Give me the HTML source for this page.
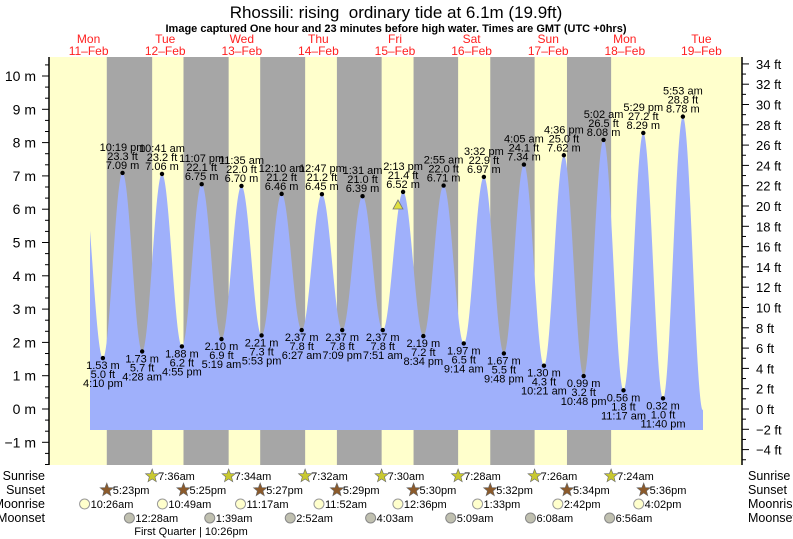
<!DOCTYPE html>
<html><head><meta charset="utf-8"><style>
html,body{margin:0;padding:0;background:#fff;}
svg{display:block;font-family:"Liberation Sans",sans-serif;}
</style></head><body>
<svg id="s" width="793" height="539" xmlns="http://www.w3.org/2000/svg"></svg>
<script>
const S=document.getElementById('s');
let o='';
const X=d=>51.3+d*76.6, Y=h=>409-h*33.3;
const T=(day,hh,mm,pm)=>{let h=hh%12+(pm?12:0);return day+(h+mm/60)/24;};
o+=`<rect x="49" y="57" width="693" height="408" fill="#ffffcc"/>`;
const sunset=[[0,5,23],[1,5,25],[2,5,27],[3,5,29],[4,5,30],[5,5,32],[6,5,34],[7,5,36]];
const sunrise=[[1,7,36],[2,7,34],[3,7,32],[4,7,30],[5,7,28],[6,7,26],[7,7,24]];
for(let i=0;i<7;i++){let a=X(T(sunset[i][0],sunset[i][1],sunset[i][2],1)),b=X(T(sunrise[i][0],sunrise[i][1],sunrise[i][2],0));
o+=`<rect x="${a}" y="57" width="${b-a}" height="408" fill="#a6a6a6"/>`;}
const E=[[T(0,9,40,0),7.1,0,1],[T(0,4,10,1),1.53,'4:10 pm'],[T(0,10,19,1),7.09,'10:19 pm'],[T(1,4,28,0),1.73,'4:28 am'],[T(1,10,41,0),7.06,'10:41 am'],[T(1,4,55,1),1.88,'4:55 pm'],[T(1,11,7,1),6.75,'11:07 pm'],[T(2,5,19,0),2.10,'5:19 am'],[T(2,11,35,0),6.70,'11:35 am'],[T(2,5,53,1),2.21,'5:53 pm'],[T(3,12,10,0),6.46,'12:10 am'],[T(3,6,27,0),2.37,'6:27 am'],[T(3,12,47,1),6.45,'12:47 pm'],[T(3,7,9,1),2.37,'7:09 pm'],[T(4,1,31,0),6.39,'1:31 am'],[T(4,7,51,0),2.37,'7:51 am'],[T(4,2,13,1),6.52,'2:13 pm'],[T(4,8,34,1),2.19,'8:34 pm'],[T(5,2,55,0),6.71,'2:55 am'],[T(5,9,14,0),1.97,'9:14 am'],[T(5,3,32,1),6.97,'3:32 pm'],[T(5,9,48,1),1.67,'9:48 pm'],[T(6,4,5,0),7.34,'4:05 am'],[T(6,10,21,0),1.30,'10:21 am'],[T(6,4,36,1),7.62,'4:36 pm'],[T(6,10,48,1),0.99,'10:48 pm'],[T(7,5,2,0),8.08,'5:02 am'],[T(7,11,17,0),0.56,'11:17 am'],[T(7,5,29,1),8.29,'5:29 pm'],[T(7,11,40,1),0.32,'11:40 pm'],[T(8,5,53,0),8.78,'5:53 am'],[T(8,12,10,1),-0.05,0,1]];
function tide(d){for(let i=0;i<E.length-1;i++){if(d>=E[i][0]&&d<=E[i+1][0]){let f=(d-E[i][0])/(E[i+1][0]-E[i][0]);return E[i][1]+(E[i+1][1]-E[i][1])*(1-Math.cos(Math.PI*f))/2;}}return 0;}
let x0=90,x1=703,p=`M${x0},430 `;
for(let x=x0;x<=x1;x+=0.5){p+=`L${x},${Y(tide((x-51.3)/76.6)).toFixed(2)} `;}
p+=`L${x1},430 Z`;
o+=`<path d="${p}" fill="#9fb0fb"/>`;
for(let i=1;i<E.length-1;i++){let [d,h,t]=E[i];let x=X(d),y=Y(h);let ft=(h/0.3048).toFixed(1);
o+=`<circle cx="${x}" cy="${y}" r="2.2" fill="#000"/>`;
if(i%2==0){o+=`<text x="${x}" y="${y-4}" font-size="11" text-anchor="middle">${h.toFixed(2)} m</text><text x="${x}" y="${y-13}" font-size="11" text-anchor="middle">${ft} ft</text><text x="${x}" y="${y-22}" font-size="11" text-anchor="middle">${t}</text>`;}
else{o+=`<text x="${x}" y="${y+11}" font-size="11" text-anchor="middle">${h.toFixed(2)} m</text><text x="${x}" y="${y+20}" font-size="11" text-anchor="middle">${ft} ft</text><text x="${x}" y="${y+29}" font-size="11" text-anchor="middle">${t}</text>`;}}
o+=`<polygon points="398,200 393,209 403,209" fill="#e0e040" stroke="#777" stroke-width="0.8"/>`;
o+=`<line x1="49" y1="57" x2="49" y2="465" stroke="#000" stroke-width="1.5"/><line x1="742" y1="57" x2="742" y2="465" stroke="#000" stroke-width="1.5"/>`;
for(let m=-1;m<=10;m++){let y=Y(m);o+=`<line x1="42" y1="${y}" x2="49" y2="${y}" stroke="#000"/><text x="36" y="${y+5}" font-size="14" text-anchor="end">${m<0?'\u2212'+(-m):m} m</text>`;}
for(let k=-5;k<=32;k++){let y=Y(k/3);if(y>57&&y<465&&k%3)o+=`<line x1="45" y1="${y}" x2="49" y2="${y}" stroke="#000"/>`;}
for(let f=-5;f<=34;f++){let y=Y(f*0.3048);if(y<57||y>465)continue;
if(f%2==0){o+=`<line x1="742" y1="${y}" x2="749" y2="${y}" stroke="#000"/><text x="756" y="${y+5}" font-size="13">${f<0?'\u2212'+(-f):f} ft</text>`;}else o+=`<line x1="742" y1="${y}" x2="746" y2="${y}" stroke="#000"/>`;}
o+=`<text x="396" y="18" font-size="17" text-anchor="middle" xml:space="preserve">Rhossili: rising  ordinary tide at 6.1m (19.9ft)</text>`;
o+=`<text x="396" y="32" font-size="11" font-weight="bold" text-anchor="middle">Image captured One hour and 23 minutes before high water. Times are GMT (UTC +0hrs)</text>`;
const days=['Mon','Tue','Wed','Thu','Fri','Sat','Sun','Mon','Tue'];
for(let i=0;i<9;i++){let x=X(i+0.5)-1;o+=`<text x="${x}" y="43" font-size="12" fill="#ff2020" text-anchor="middle">${days[i]}</text><text x="${x}" y="55" font-size="12" fill="#ff2020" text-anchor="middle">${11+i}\u2013Feb</text>`;}
const rows=['Sunrise','Sunset','Moonrise','Moonset'],ry=[480,494,508,522];
for(let i=0;i<4;i++){o+=`<text x="45" y="${ry[i]}" font-size="12.5" text-anchor="end">${rows[i]}</text><text x="748" y="${ry[i]}" font-size="12.5">${rows[i]}</text>`;}
function star(cx,cy,fill){let pts=[];for(let k=0;k<10;k++){let r=k%2?3:7,a=-Math.PI/2+k*Math.PI/5;pts.push((cx+r*Math.cos(a)).toFixed(1)+','+(cy+r*Math.sin(a)).toFixed(1));}return `<polygon points="${pts.join(' ')}" fill="${fill}" stroke="#666" stroke-width="0.6"/>`;}
sunrise.forEach(s=>{let x=X(T(s[0],s[1],s[2],0));o+=star(x,476,'#c8c830')+`<text x="${x+6}" y="480" font-size="11">${s[1]}:${String(s[2]).padStart(2,'0')}am</text>`;});
sunset.forEach(s=>{let x=X(T(s[0],s[1],s[2],1));o+=star(x,490,'#8b5a2b')+`<text x="${x+6}" y="494" font-size="11">${s[1]}:${String(s[2]).padStart(2,'0')}pm</text>`;});
const mr=[[0,10,26,0,'10:26am'],[1,10,49,0,'10:49am'],[2,11,17,0,'11:17am'],[3,11,52,0,'11:52am'],[4,12,36,1,'12:36pm'],[5,1,33,1,'1:33pm'],[6,2,42,1,'2:42pm'],[7,4,2,1,'4:02pm']];
mr.forEach(m=>{let x=X(T(m[0],m[1],m[2],m[3]));o+=`<circle cx="${x}" cy="504" r="5" fill="#ffffcc" stroke="#999"/><text x="${x+6}" y="508" font-size="11">${m[4]}</text>`;});
const ms=[[1,12,28,'12:28am'],[2,1,39,'1:39am'],[3,2,52,'2:52am'],[4,4,3,'4:03am'],[5,5,9,'5:09am'],[6,6,8,'6:08am'],[7,6,56,'6:56am']];
ms.forEach(m=>{let x=X(T(m[0],m[1],m[2],0));o+=`<circle cx="${x}" cy="518" r="5" fill="#c0c0b0" stroke="#888"/><text x="${x+6}" y="522" font-size="11">${m[3]}</text>`;});
o+=`<text x="191" y="535" font-size="11" text-anchor="middle">First Quarter | 10:26pm</text>`;
S.innerHTML=o;
</script>
</body></html>
